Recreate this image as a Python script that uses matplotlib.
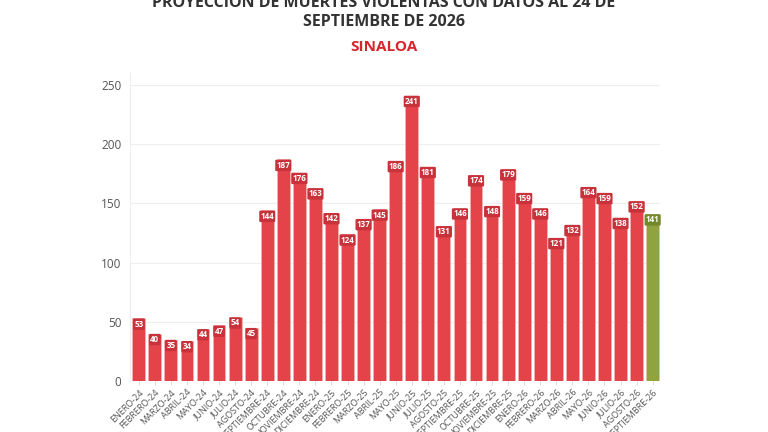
import matplotlib
matplotlib.use("Agg")
import matplotlib.pyplot as plt

meses = ["ENERO", "FEBRERO", "MARZO", "ABRIL", "MAYO", "JUNIO", "JULIO",
         "AGOSTO", "SEPTIEMBRE", "OCTUBRE", "NOVIEMBRE", "DICIEMBRE"]
etiquetas = ([f"{m}-24" for m in meses] + [f"{m}-25" for m in meses]
             + [f"{m}-26" for m in meses[:9]])
valores = [53, 40, 35, 34, 44, 47, 54, 45, 144, 187, 176, 163,
           142, 124, 137, 145, 186, 241, 181, 131, 146, 174, 148, 179,
           159, 146, 121, 132, 164, 159, 138, 152, 141]
proyectado = [False] * 32 + [True]

ROJO = "#e5434a"
ROJO_OSC = "#c8323a"
VERDE = "#8fa33f"
VERDE_OSC = "#74882c"

plt.rcParams["font.family"] = ["Open Sans", "DejaVu Sans"]

fig = plt.figure(figsize=(7.68, 4.32), dpi=100)
ax = fig.add_axes([0.169, 0.118, 0.69, 0.713])

x = list(range(len(valores)))
colores = [VERDE if p else ROJO for p in proyectado]
ax.bar(x, valores, width=0.8, color=colores, edgecolor="#f4b5b8", linewidth=0.4, zorder=2)

for xi, v, p in zip(x, valores, proyectado):
    ax.text(xi, v - 5, str(v), ha="center", va="center", fontsize=5.8,
            fontweight="bold", color="white", zorder=3,
            bbox=dict(boxstyle="round,pad=0.15", fc=VERDE_OSC if p else ROJO_OSC,
                      ec="none"))

ax.set_xlim(-0.56, 32.44)
ax.set_ylim(0, 260)
ax.set_yticks([0, 50, 100, 150, 200, 250])
ax.set_xticks(x)
ax.set_xticklabels(etiquetas, rotation=45, ha="right", rotation_mode="anchor",
                   fontsize=6.5, color="#555555")
ax.tick_params(axis="y", length=0, labelsize=8.5, labelcolor="#555555", pad=6)
ax.tick_params(axis="x", length=3, color="#dddddd", pad=2)
ax.grid(axis="y", color="#eeeeee", linewidth=0.8, zorder=0)
for s in ["top", "right", "bottom"]:
    ax.spines[s].set_visible(False)
ax.spines["left"].set_color("#eeeeee")

fig.text(0.5, 1 - 3 / 432, "PROYECCIÓN DE MUERTES VIOLENTAS CON DATOS AL 24 DE",
         ha="center", va="center", fontsize=11.5, fontweight="bold", color="#333333")
fig.text(0.5, 1 - 22.5 / 432, "SEPTIEMBRE DE 2026",
         ha="center", va="center", fontsize=11.5, fontweight="bold", color="#333333")
fig.text(0.5, 1 - 47 / 432, "SINALOA", ha="center", va="center", fontsize=11,
         fontweight="bold", color="#d7262e")

fig.savefig("out.png", dpi=100, facecolor="white")
